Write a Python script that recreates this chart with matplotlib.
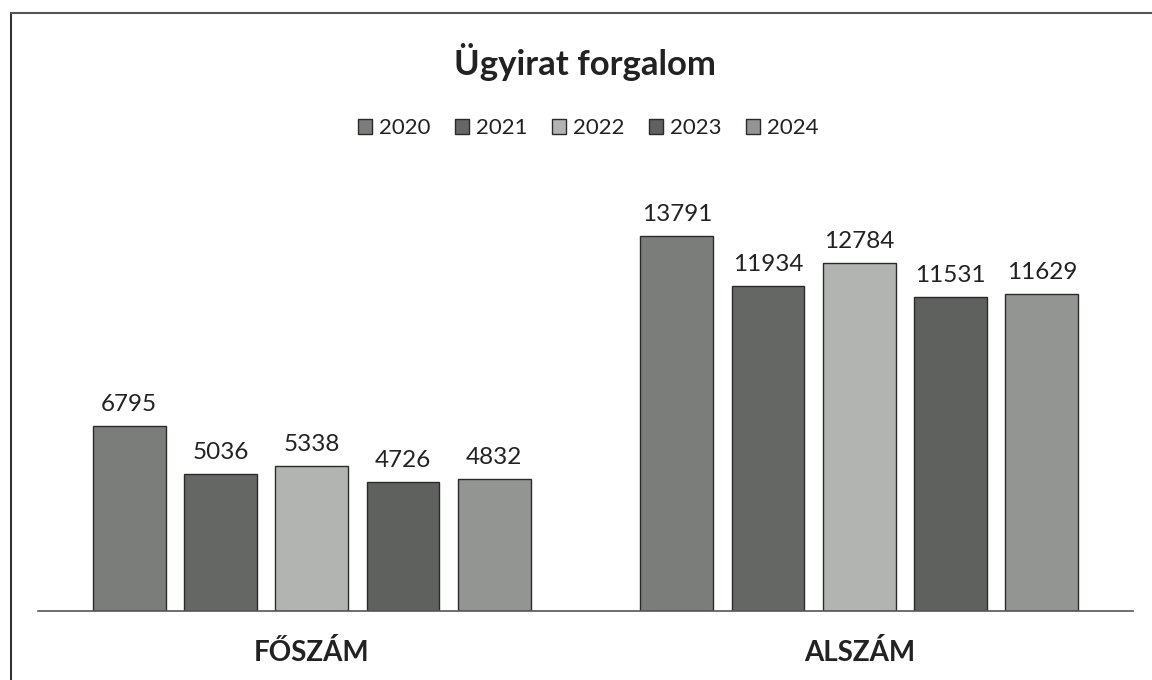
import matplotlib
matplotlib.use("Agg")
import matplotlib.pyplot as plt
from matplotlib.lines import Line2D
import numpy as np

plt.rcParams['font.family'] = ['Lato', 'DejaVu Sans']

categories = ["FŐSZÁM", "ALSZÁM"]
years = ["2020", "2021", "2022", "2023", "2024"]
values = {
    "2020": [6795, 13791],
    "2021": [5036, 11934],
    "2022": [5338, 12784],
    "2023": [4726, 11531],
    "2024": [4832, 11629],
}
colors = ["#7b7d7b", "#656765", "#b2b4b2", "#5f615f", "#939593"]

fig = plt.figure(figsize=(11.52, 6.8), dpi=100)
ax = fig.add_axes([38/1152, (680-611)/680, 1095/1152, (611-200)/680])

x = np.arange(len(categories))
step = 1/6
width = 0.133
for i, y in enumerate(years):
    pos = x + (i - 2) * step
    bars = ax.bar(pos, values[y], width=width, color=colors[i], edgecolor="#2a2a2a",
                  linewidth=1.0, label=y, zorder=2)
    for b, v in zip(bars, values[y]):
        ax.annotate(str(v), (b.get_x() + b.get_width()/2, v), xytext=(0, 8),
                    textcoords="offset points", ha="center", va="bottom",
                    fontsize=17.5, color="#222222")

ax.set_xlim(-0.5, 1.5)
ax.set_ylim(0, 15100)
for s in ["top", "right", "left"]:
    ax.spines[s].set_visible(False)
ax.spines["bottom"].set_color("#555555")
ax.spines["bottom"].set_linewidth(1.2)
ax.set_yticks([])
ax.set_xticks(x)
ax.set_xticklabels(categories, fontsize=20, fontweight="bold", color="#222222")
ax.tick_params(axis="x", length=0, pad=20)

fig.text(585/1152, 1 - 62/680, "Ügyirat forgalom", ha="center", va="center",
         fontsize=25, fontweight="bold", color="#222222")

leg = fig.legend(loc="center", bbox_to_anchor=(588/1152, 1 - 128/680), ncol=5,
                 frameon=False, fontsize=16, handlelength=0.65, handleheight=0.65,
                 handletextpad=0.3, columnspacing=1.1)
for t in leg.get_texts():
    t.set_color("#222222")

fig.add_artist(Line2D([11/1152, 11/1152], [0, 1 - 13/680], transform=fig.transFigure,
                      color="#333333", linewidth=1.5))
fig.add_artist(Line2D([11/1152, 1], [1 - 13/680, 1 - 13/680], transform=fig.transFigure,
                      color="#555555", linewidth=1.5))

fig.savefig("out.png", dpi=100)
